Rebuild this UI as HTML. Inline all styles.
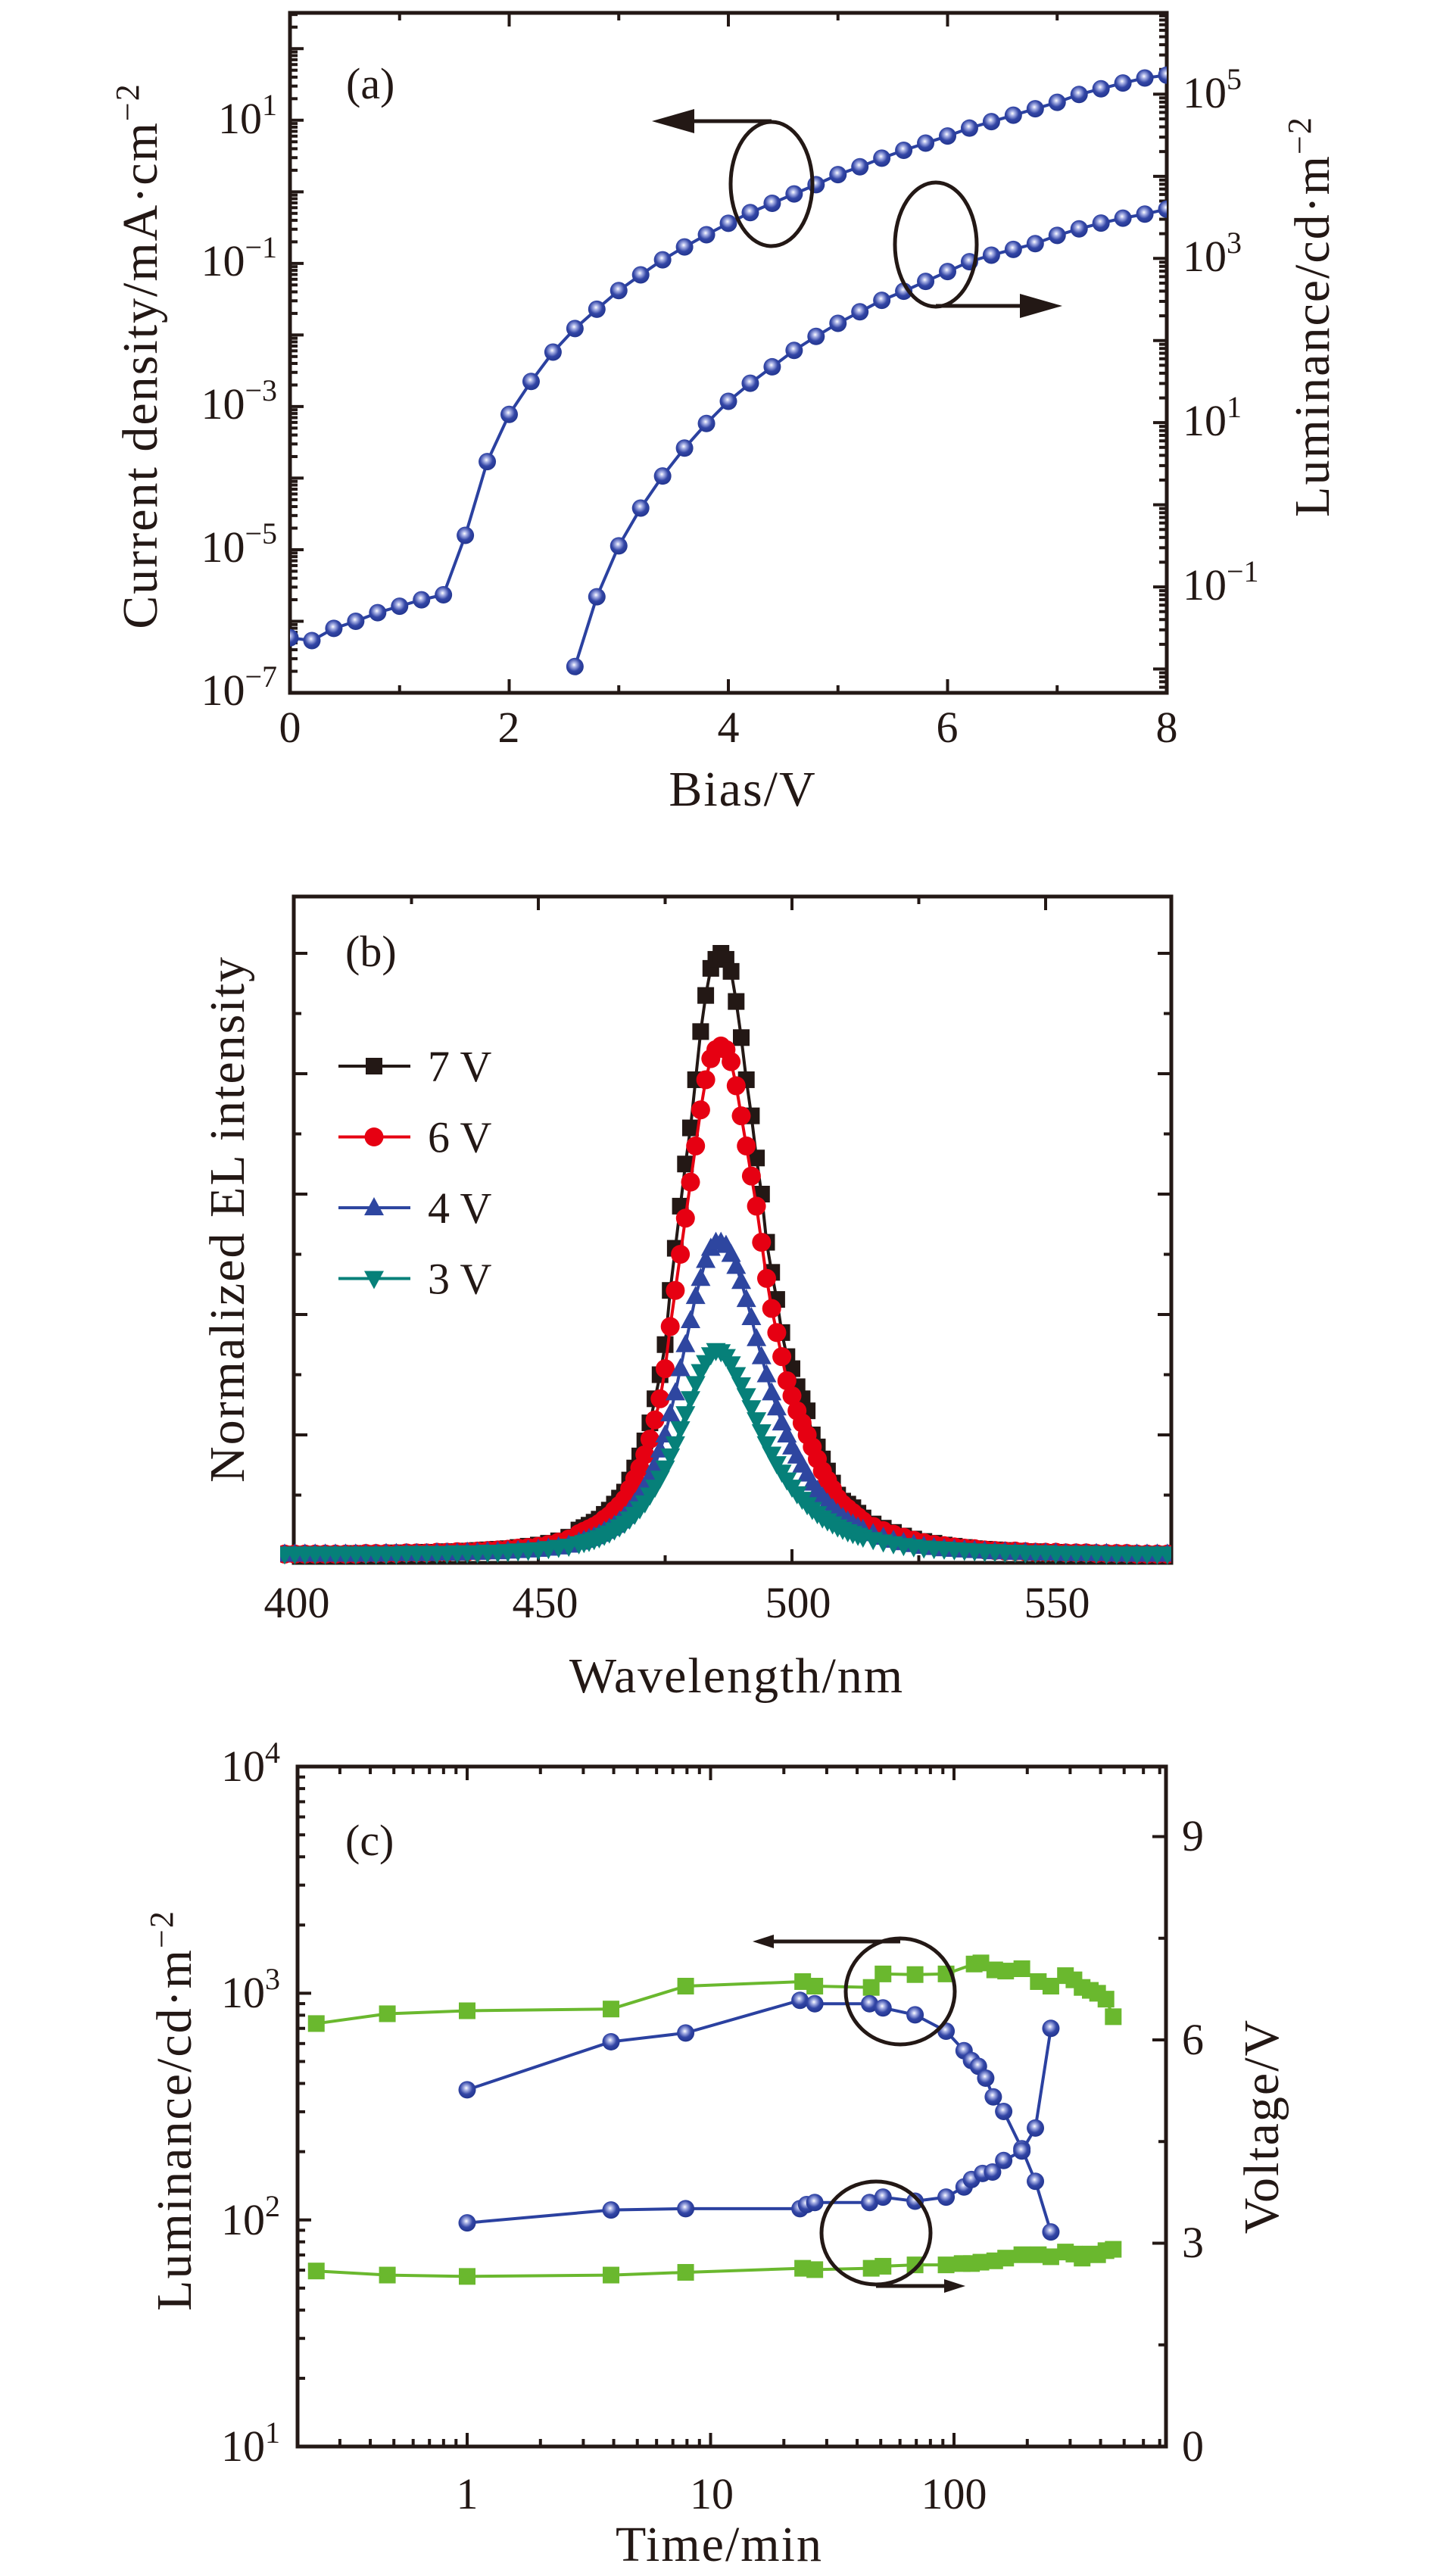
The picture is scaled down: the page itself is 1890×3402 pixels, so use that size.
<!DOCTYPE html>
<html><head><meta charset="utf-8"><style>
html,body{margin:0;padding:0;background:#fff}
svg{display:block}
text{font-family:"Liberation Serif",serif;fill:#231815}
.ttl{letter-spacing:2px}
</style></head><body>
<svg id="fig" xmlns="http://www.w3.org/2000/svg" width="1890" height="3402" viewBox="0 0 1890 3402">
<defs>
<radialGradient id="ball" cx="0.45" cy="0.4" r="0.6">
<stop offset="0" stop-color="#ffffff"/><stop offset="0.22" stop-color="#a9b2e6"/><stop offset="0.6" stop-color="#3346a6"/><stop offset="1" stop-color="#22358f"/>
</radialGradient>
<clipPath id="clipA"><rect x="383" y="17" width="1158" height="898"/></clipPath>
<clipPath id="clipB"><rect x="370" y="1184" width="1177" height="900"/></clipPath>
<clipPath id="clipC"><rect x="393" y="2333" width="1147" height="898"/></clipPath>
</defs>

<!-- Panel A -->
<g id="panelA">
<g id="aTicks"></g>
<rect x="383" y="17" width="1158" height="898" fill="none" stroke="#231815" stroke-width="5"/>
<text x="457" y="130" font-size="58">(a)</text>
<g font-size="58" text-anchor="end">
<text x="366" y="176">10<tspan dy="-24" font-size="40">1</tspan></text>
<text x="366" y="364">10<tspan dy="-24" font-size="40">−1</tspan></text>
<text x="366" y="553">10<tspan dy="-24" font-size="40">−3</tspan></text>
<text x="366" y="742">10<tspan dy="-24" font-size="40">−5</tspan></text>
<text x="366" y="931">10<tspan dy="-24" font-size="40">−7</tspan></text>
</g>
<g font-size="58">
<text x="1562" y="142">10<tspan dy="-24" font-size="40">5</tspan></text>
<text x="1562" y="358">10<tspan dy="-24" font-size="40">3</tspan></text>
<text x="1562" y="575">10<tspan dy="-24" font-size="40">1</tspan></text>
<text x="1562" y="792">10<tspan dy="-24" font-size="40">−1</tspan></text>
</g>
<g font-size="58" text-anchor="middle">
<text x="383" y="980">0</text><text x="672" y="980">2</text><text x="962" y="980">4</text><text x="1251" y="980">6</text><text x="1541" y="980">8</text>
</g>
<text class="ttl" x="981" y="1064" font-size="66" text-anchor="middle">Bias/V</text>
<text class="ttl" transform="translate(207,470) rotate(-90)" font-size="66" text-anchor="middle">Current density/mA·cm<tspan dy="-24" font-size="44">−2</tspan></text>
<text class="ttl" transform="translate(1755,418) rotate(-90)" font-size="66" text-anchor="middle">Luminance/cd·m<tspan dy="-24" font-size="44">−2</tspan></text>
<g id="aData" clip-path="url(#clipA)"></g>
<g>
<ellipse cx="1019" cy="243" rx="54" ry="82" fill="none" stroke="#231815" stroke-width="5"/>
<line x1="1019" y1="160" x2="910" y2="160" stroke="#231815" stroke-width="5"/>
<polygon points="861,160 917,144 917,176" fill="#231815"/>
</g>
<g>
<ellipse cx="1236" cy="323" rx="54" ry="82" fill="none" stroke="#231815" stroke-width="5"/>
<line x1="1236" y1="404" x2="1350" y2="404" stroke="#231815" stroke-width="5"/>
<polygon points="1403,404 1347,388 1347,420" fill="#231815"/>
</g>
</g>

<!-- Panel B -->
<g id="panelB">
<g id="bTicks"></g>
<rect x="388" y="1184" width="1159" height="880" fill="none" stroke="#231815" stroke-width="5"/>
<g id="bData" clip-path="url(#clipB)"></g>
<text x="456" y="1276" font-size="58">(b)</text>
<g id="bLegend" font-size="58"></g>
<g font-size="58" text-anchor="middle">
<text x="392" y="2136">400</text><text x="720" y="2136">450</text><text x="1054" y="2136">500</text><text x="1396" y="2136">550</text>
</g>
<text class="ttl" x="973" y="2235" font-size="66" text-anchor="middle">Wavelength/nm</text>
<text class="ttl" transform="translate(322,1610) rotate(-90)" font-size="66" text-anchor="middle">Normalized EL intensity</text>
</g>

<!-- Panel C -->
<g id="panelC">
<g id="cTicks"></g>
<rect x="393" y="2333" width="1147" height="898" fill="none" stroke="#231815" stroke-width="5"/>
<g id="cData" clip-path="url(#clipC)"></g>
<text x="456" y="2450" font-size="58">(c)</text>
<g font-size="58" text-anchor="end">
<text x="370" y="2352">10<tspan dy="-24" font-size="40">4</tspan></text>
<text x="370" y="2651">10<tspan dy="-24" font-size="40">3</tspan></text>
<text x="370" y="2951">10<tspan dy="-24" font-size="40">2</tspan></text>
<text x="370" y="3250">10<tspan dy="-24" font-size="40">1</tspan></text>
</g>
<g font-size="58">
<text x="1561" y="2444">9</text><text x="1561" y="2713">6</text><text x="1561" y="2981">3</text><text x="1561" y="3250">0</text>
</g>
<g font-size="58" text-anchor="middle">
<text x="617" y="3313">1</text><text x="940" y="3313">10</text><text x="1260" y="3313">100</text>
</g>
<text class="ttl" x="950" y="3382" font-size="66" text-anchor="middle">Time/min</text>
<text class="ttl" transform="translate(252,2787) rotate(-90)" font-size="66" text-anchor="middle">Luminance/cd·m<tspan dy="-24" font-size="44">−2</tspan></text>
<text class="ttl" transform="translate(1688,2808) rotate(-90)" font-size="66" text-anchor="middle">Voltage/V</text>
<g>
<ellipse cx="1189" cy="2630" rx="72" ry="70" fill="none" stroke="#231815" stroke-width="5"/>
<line x1="1189" y1="2564" x2="1010" y2="2564" stroke="#231815" stroke-width="5"/>
<polygon points="994,2564 1022,2555 1022,2573" fill="#231815"/>
</g>
<g>
<ellipse cx="1157" cy="2949" rx="72" ry="68" fill="none" stroke="#231815" stroke-width="5"/>
<line x1="1157" y1="3019" x2="1260" y2="3019" stroke="#231815" stroke-width="5"/>
<polygon points="1275,3019 1247,3010 1247,3028" fill="#231815"/>
</g>
</g>
</svg>
<script>
// ---------- Panel A data ----------
var biasCurrent = [0,0.2,0.4,0.6,0.8,1.0,1.2,1.4,1.6,1.8,2.0,2.2,2.4,2.6,2.8,3.0,3.2,3.4,3.6,3.8,4.0,4.2,4.4,4.6,4.8,5.0,5.2,5.4,5.6,5.8,6.0,6.2,6.4,6.6,6.8,7.0,7.2,7.4,7.6,7.8,8.0];
var currentLog10 = [-6.23,-6.27,-6.10,-6.00,-5.88,-5.79,-5.70,-5.63,-4.80,-3.77,-3.11,-2.65,-2.24,-1.91,-1.64,-1.38,-1.16,-0.95,-0.77,-0.60,-0.44,-0.29,-0.16,-0.03,0.10,0.24,0.35,0.47,0.58,0.68,0.78,0.89,0.98,1.07,1.16,1.25,1.36,1.44,1.52,1.59,1.63];
var biasLum = [2.6,2.8,3.0,3.2,3.4,3.6,3.8,4.0,4.2,4.4,4.6,4.8,5.0,5.2,5.4,5.6,5.8,6.0,6.2,6.4,6.6,6.8,7.0,7.2,7.4,7.6,7.8,8.0];
var lumLog10 = [-1.97,-1.12,-0.50,-0.04,0.35,0.69,0.99,1.26,1.48,1.68,1.88,2.05,2.21,2.35,2.49,2.60,2.72,2.84,2.96,3.04,3.11,3.18,3.28,3.36,3.43,3.49,3.54,3.60];
var aXTicks = [0,2,4,6,8];

// ---------- Panel B data ----------
var wavelengths = [400,402,404,406,408,410,412,414,416,418,420,422,424,426,428,430,432,434,436,438,440,442,444,446,448,450,452,454,456,458,
459,460,461,462,463,464,465,466,467,468,469,470,471,472,473,474,475,476,477,478,479,480,481,482,483,484,485,486,487,488,489,490,491,492,493,494,495,496,497,498,499,500,501,502,503,504,505,506,507,508,509,510,511,512,513,514,
516,518,520,522,524,526,528,530,532,534,536,538,540,542,544,546,548,550,552,554,556,558,560,562,564,566,568,570,572,574];
var el7V = [.002,.002,.002,.002,.002,.002,.002,.003,.003,.003,.003,.004,.004,.004,.005,.005,.006,.006,.007,.008,.009,.010,.011,.013,.015,.017,.020,.024,.030,.042,
.046,.05,.055,.06,.068,.075,.085,.095,.105,.125,.145,.165,.19,.22,.26,.30,.35,.44,.51,.58,.65,.71,.79,.87,.93,.975,.99,1.0,.99,.97,.92,.86,.79,.73,.66,.60,.52,.47,.425,.37,.33,.31,.28,.26,.24,.20,.18,.16,.14,.12,.10,.09,.085,.079,.07,.062,
.052,.045,.038,.032,.027,.023,.02,.017,.015,.013,.011,.01,.009,.008,.007,.006,.006,.005,.005,.004,.004,.004,.003,.003,.003,.003,.002,.002,.002,.002];
var el6V = [.002,.002,.002,.002,.002,.002,.002,.002,.003,.003,.003,.003,.004,.004,.004,.005,.005,.006,.006,.007,.008,.009,.010,.012,.013,.015,.018,.022,.027,.036,
.04,.044,.048,.053,.06,.066,.075,.083,.093,.11,.127,.145,.167,.193,.225,.26,.31,.38,.44,.50,.56,.62,.68,.74,.79,.825,.84,.846,.84,.82,.78,.73,.68,.63,.58,.52,.46,.41,.37,.33,.29,.265,.24,.22,.20,.18,.16,.14,.125,.11,.095,.085,.078,.071,.064,.057,
.048,.041,.035,.03,.025,.021,.018,.016,.014,.012,.011,.009,.008,.007,.007,.006,.005,.005,.005,.004,.004,.004,.003,.003,.003,.003,.002,.002,.002,.002];
var el4V = [.002,.002,.002,.002,.002,.002,.002,.002,.002,.002,.003,.003,.003,.003,.003,.004,.004,.004,.005,.005,.006,.006,.007,.008,.009,.010,.012,.014,.017,.022,
.025,.028,.031,.035,.04,.045,.05,.057,.065,.075,.087,.10,.115,.13,.15,.175,.2,.235,.27,.31,.35,.39,.43,.46,.49,.51,.52,.52,.515,.50,.48,.455,.425,.395,.36,.33,.30,.27,.245,.22,.2,.18,.165,.15,.135,.12,.108,.097,.087,.078,.07,.063,.057,.052,.047,.043,
.036,.03,.025,.021,.018,.015,.013,.011,.01,.009,.008,.007,.006,.006,.005,.005,.004,.004,.004,.003,.003,.003,.003,.003,.002,.002,.002,.002,.002,.002];
var el3V = [.002,.002,.002,.002,.002,.002,.002,.002,.002,.002,.002,.002,.003,.003,.003,.003,.003,.004,.004,.004,.005,.005,.006,.007,.008,.009,.011,.013,.015,.019,
.021,.023,.026,.029,.033,.037,.042,.047,.053,.06,.068,.077,.087,.1,.113,.128,.145,.165,.185,.21,.235,.26,.285,.305,.32,.333,.34,.338,.33,.318,.30,.283,.265,.245,.225,.205,.185,.168,.152,.138,.125,.113,.102,.093,.084,.076,.069,.062,.057,.052,.047,.043,.039,.036,.033,.03,
.026,.022,.019,.016,.014,.012,.011,.01,.009,.008,.007,.006,.006,.005,.005,.004,.004,.004,.003,.003,.003,.003,.003,.002,.002,.002,.002,.002,.002,.002];
var bXTicks = [400,450,500,550];
var legendLabels = ["7 V","6 V","4 V","3 V"];

// ---------- Panel C data ----------
var greenLumT = [0.24,0.47,1,3.9,7.9,23.9,26.8,45.7,51.1,69.2,92.8,121,129,147,163,190,222,250,287,311,336,363,389,421,451];
var greenLum = [735,812,837,852,1075,1126,1075,1061,1217,1209,1217,1346,1361,1268,1253,1283,1126,1075,1196,1146,1061,1030,1000,942,788];
var blueLumT = [1,3.9,7.9,23.3,26.8,45,51.1,69.2,92.8,110,118,126,135,145,160,190,216,250];
var blueLum = [375,611,668,931,899,899,862,803,680,558,505,476,422,349,301,206,148,88.5];
var blueVT = [1,3.9,7.9,23.3,24.8,26.8,45,51.1,69.2,92.8,110,118,131,144,160,190,216,250];
var blueV = [3.30,3.49,3.51,3.51,3.57,3.60,3.60,3.68,3.62,3.68,3.83,3.94,4.03,4.05,4.22,4.36,4.70,6.17];
var greenVT = [0.24,0.47,1,3.9,7.9,23.9,26.8,45.7,51.1,69.2,92.8,108,118,129,147,163,190,222,250,287,311,336,363,389,421,451];
var greenV = [2.59,2.53,2.51,2.53,2.57,2.63,2.61,2.63,2.66,2.68,2.68,2.70,2.70,2.72,2.74,2.78,2.83,2.83,2.80,2.87,2.84,2.78,2.84,2.83,2.89,2.91];
var cXTicks = [1,10,100];
var cVTicks = [0,3,6,9];

var NS = "http://www.w3.org/2000/svg";
function mk(tag, attrs, parent){
  var e = document.createElementNS(NS, tag);
  for (var k in attrs) e.setAttribute(k, attrs[k]);
  parent.appendChild(e);
  return e;
}
var INK = "#231815";

function xA(v){ return 383 + v/8*1158; }
function yAL(lg){ return 915 - (lg + 7)/9.5*898; }
function yAR(lg){ return 915 - (lg + 2.29)/8.28*898; }
function xB(nm){ return 1046 + (nm - 500)*6.7; }
function yB(v){ return 2054 - v*795; }
function xC(t){ return 617 + Math.log10(t)*321.5; }
function yCL(l){ return 3231 - (Math.log10(l) - 1)*299.3; }
function yCV(v){ return 3231 - v*89.5; }

function tick(g, x1, y1, x2, y2, name){
  var t = mk("line", {x1:x1, y1:y1, x2:x2, y2:y2, stroke:INK, "stroke-width":4}, g);
  
  
}

// ---------- Panel A ----------
(function(){
  var g = document.getElementById("aTicks");
  for (var i=0;i<aXTicks.length;i++){
    var x = xA(aXTicks[i]);
    tick(g, x, 915, x, 897, 'x-tick-a'); tick(g, x, 17, x, 35, 'x-tick-a-top');
    if (i < aXTicks.length-1){ var xm = xA(aXTicks[i]+1); tick(g, xm, 915, xm, 905, 'x-minor-tick-a'); tick(g, xm, 17, xm, 27, 'x-minor-tick-a-top'); }
  }
  for (var d=-7; d<=2; d++){
    var y = yAL(d); tick(g, 383, y, 401, y, 'y-tick-a-left');
    for (var m=2;m<=9;m++){ var ym = yAL(d+Math.log10(m)); if (ym>19) tick(g, 383, ym, 393, ym, 'y-minor-tick-a-left'); }
  }
  for (var d2=-3; d2<=5; d2++){
    var yr = yAR(d2); if (yr<915 && yr>17) tick(g, 1541, yr, 1523, yr, 'y-tick-a-right');
    for (var m2=2;m2<=9;m2++){ var ym2 = yAR(d2+Math.log10(m2)); if (ym2>19 && ym2<913) tick(g, 1541, ym2, 1531, ym2, 'y-minor-tick-a-right'); }
  }
  var dg = document.getElementById("aData");
  function series(xs, ys, yf, name){
    var pts = xs.map(function(v,i){ return xA(v)+","+yf(ys[i]); }).join(" ");
    var pl = mk("polyline", {points:pts, fill:"none", stroke:"#2b41a0", "stroke-width":4}, dg);
    
    
    for (var i=0;i<xs.length;i++){
      var c = mk("circle", {cx:xA(xs[i]), cy:yf(ys[i]), r:11.5, fill:"url(#ball)"}, dg);
      
      
    }
  }
  series(biasCurrent, currentLog10, yAL, 'current-density');
  series(biasLum, lumLog10, yAR, 'luminance');
})();

// ---------- Panel B ----------
(function(){
  var g = document.getElementById("bTicks");
  for (var i=0;i<bXTicks.length;i++){
    var x = xB(bXTicks[i]);
    if (x>390) { tick(g, x, 2064, x, 2046, 'x-tick-b'); tick(g, x, 1184, x, 1202, 'x-tick-b-top'); }
    var xm = xB(bXTicks[i]+25);
    if (xm<1545){ tick(g, xm, 2064, xm, 2054, 'x-minor-tick-b'); tick(g, xm, 1184, xm, 1194, 'x-minor-tick-b-top'); }
  }
  for (var k=1;k<=10;k++){
    var y = yB(k/10), len = (k%2===0)?18:10;
    tick(g, 388, y, 388+len, y, 'y-tick-b-left'); tick(g, 1547, y, 1547-len, y, 'y-tick-b-right');
  }
  var dg = document.getElementById("bData");
  var series = [
    {v:el7V, c:"#231815", s:"square", n:"series-7v"},
    {v:el6V, c:"#e60012", s:"circle", n:"series-6v"},
    {v:el4V, c:"#2e46a0", s:"up", n:"series-4v"},
    {v:el3V, c:"#068079", s:"down", n:"series-3v"}
  ];
  function marker(parent, shape, x, y, col){
    var e;
    if (shape==="square") e = mk("rect", {x:x-11, y:y-11, width:22, height:22, fill:col}, parent);
    else if (shape==="circle") e = mk("circle", {cx:x, cy:y, r:12.5, fill:col}, parent);
    else if (shape==="up") e = mk("polygon", {points:(x-13)+","+(y+10)+" "+(x+13)+","+(y+10)+" "+x+","+(y-14), fill:col}, parent);
    else e = mk("polygon", {points:(x-13)+","+(y-10)+" "+(x+13)+","+(y-10)+" "+x+","+(y+14), fill:col}, parent);
    return e;
  }
  series.forEach(function(s){
    var pts = wavelengths.map(function(w,i){ return xB(w)+","+yB(s.v[i]); }).join(" ");
    var pl = mk("polyline", {points:pts, fill:"none", stroke:s.c, "stroke-width":4}, dg);
    
    
    for (var i=0;i<wavelengths.length;i++){
      var m = marker(dg, s.s, xB(wavelengths[i]), yB(s.v[i]), s.c);
      
      
    }
  });
  var lg = document.getElementById("bLegend");
  for (var j=0;j<series.length;j++){
    var ly = 1408 + j*93.5;
    var ent = mk("g", {}, lg);
    
    
    mk("line", {x1:447, y1:ly, x2:542, y2:ly, stroke:series[j].c, "stroke-width":4}, ent);
    marker(ent, series[j].s, 494, ly, series[j].c);
    var t = mk("text", {x:565, y:ly+20, "font-size":58}, ent);
    t.textContent = legendLabels[j];
  }
})();

// ---------- Panel C ----------
(function(){
  var g = document.getElementById("cTicks");
  for (var d=-1; d<=2; d++){
    for (var m=1;m<=9;m++){
      var t = m*Math.pow(10,d), x = xC(t);
      if (x<395 || x>1538) continue;
      var len = (m===1)?18:10;
      tick(g, x, 3231, x, 3231-len, 'x-tick-c'); tick(g, x, 2333, x, 2333+len, 'x-tick-c-top');
    }
  }
  for (var e=1;e<=4;e++){
    var y = yCL(Math.pow(10,e));
    if (e<4 && e>1) tick(g, 393, y, 411, y, 'y-tick-c-left');
    if (e<4) for (var mm=2;mm<=9;mm++){ var ym = yCL(mm*Math.pow(10,e)); tick(g, 393, ym, 403, ym, 'y-minor-tick-c-left'); }
  }
  for (var v=0; v<=9; v+=1.5){
    var yv = yCV(v); var major = (v%3===0);
    if (v>0) tick(g, 1540, yv, 1540-(major?18:10), yv, 'y-tick-c-right');
  }
  var dg = document.getElementById("cData");
  function series(ts, vs, yf, col, shape, name){
    var pts = ts.map(function(t,i){ return xC(t)+","+yf(vs[i]); }).join(" ");
    var pl = mk("polyline", {points:pts, fill:"none", stroke:col, "stroke-width":4}, dg);
    
    
    for (var i=0;i<ts.length;i++){
      var x = xC(ts[i]), y = yf(vs[i]), p;
      if (shape==="square") p = mk("rect", {x:x-11, y:y-11, width:22, height:22, fill:col}, dg);
      else p = mk("circle", {cx:x, cy:y, r:11.5, fill:"url(#ball)"}, dg);
      
      
    }
  }
  series(greenLumT, greenLum, yCL, "#6ab82e", "square", 'green-luminance');
  series(greenVT, greenV, yCV, "#6ab82e", "square", 'green-voltage');
  series(blueLumT, blueLum, yCL, "#2b41a0", "ball", 'blue-luminance');
  series(blueVT, blueV, yCV, "#2b41a0", "ball", 'blue-voltage');
})();
</script>
</body></html>
